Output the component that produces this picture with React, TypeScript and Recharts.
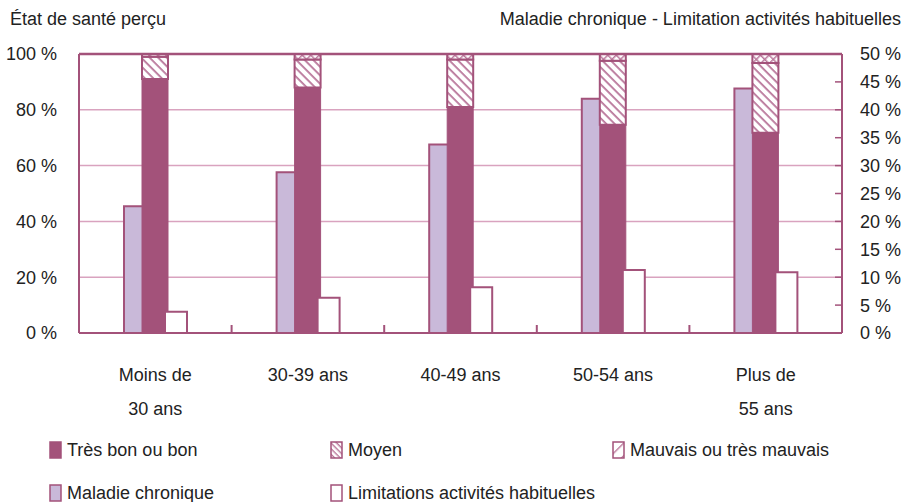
import { Bar, CartesianGrid, ComposedChart, ReferenceLine, XAxis, YAxis } from 'recharts';

const categories = ['Moins de 30 ans', '30-39 ans', '40-49 ans', '50-54 ans', 'Plus de 55 ans'];
const tickLines = [['Moins de', '30 ans'], ['30-39 ans'], ['40-49 ans'], ['50-54 ans'], ['Plus de', '55 ans']];

// état de santé perçu (axe gauche, %)
const tresBon = [91, 88, 81, 74.6, 71.8];
const moyen = [8, 10, 17, 23, 25];
const mauvais = [1, 2, 2, 2.4, 3.2];

// axe droit (%)
const maladie = [22.7, 28.8, 33.8, 42, 43.8];
const limitations = [3.8, 6.3, 8.2, 11.3, 10.9];

const leftTicks = [0, 20, 40, 60, 80, 100];
const rightTicks = [0, 5, 10, 15, 20, 25, 30, 35, 40, 45, 50];

const data = categories.map((name, i) => ({
  name,
  tresBon: tresBon[i],
  moyen: moyen[i],
  mauvais: mauvais[i],
  maladie: maladie[i],
  limitations: limitations[i],
}));

const DARK = '#a3527a';
const HATCH = '#b9769a';
const LIGHT = '#c9b9d9';
const GRID = '#d9a3bf';
const TEXT = '#222';
const FONT = '"Liberation Sans", Arial, sans-serif';
const FS = 18;

const PLOT_LEFT = 79;
const PLOT_RIGHT = 842;
const halfBand = (PLOT_RIGHT - PLOT_LEFT) / categories.length / 2;

const XTick = (props: any) => {
  const { x, y, index } = props;
  const lines = tickLines[index] || [];
  return (
    <g>
      {index < categories.length - 1 && (
        <line x1={x + halfBand} x2={x + halfBand} y1={y - 8} y2={y} stroke={DARK} strokeWidth={2} />
      )}
      {lines.map((l, k) => (
        <text key={k} x={x} y={y + 48 + k * 34} textAnchor="middle" fill={TEXT} fontSize={FS} fontFamily={FONT}>
          {l}
        </text>
      ))}
    </g>
  );
};

const RightTick = (props: any) => {
  const { x, y, payload } = props;
  return (
    <g>
      <line x1={x - 7} x2={x} y1={y} y2={y} stroke={DARK} strokeWidth={1.5} />
      <text x={x + 18} y={y} dy="0.36em" textAnchor="start" fill={TEXT} fontSize={FS} fontFamily={FONT}>
        {payload.value} %
      </text>
    </g>
  );
};

const LegendIcon = ({ fill, stroke = DARK }: { fill: string; stroke?: string }) => (
  <svg width={13} height={18} style={{ marginRight: 5, flexShrink: 0 }}>
    <defs>
      <pattern id="lgMoyen" width="4" height="4" patternUnits="userSpaceOnUse" patternTransform="rotate(45)">
        <rect width="4" height="4" fill="#fff" />
        <rect width="4" height="1.4" fill={HATCH} />
      </pattern>
      <pattern id="lgMauvais" width="9" height="9" patternUnits="userSpaceOnUse" patternTransform="rotate(-45)">
        <rect width="9" height="9" fill="#fff" />
        <rect width="9" height="1.4" fill={HATCH} />
      </pattern>
    </defs>
    <rect x={1} y={1} width={11} height={16} fill={fill} stroke={stroke} strokeWidth={1.5} />
  </svg>
);

const legendItems = [
  { label: 'Très bon ou bon', fill: DARK, left: 49, top: 441 },
  { label: 'Moyen', fill: 'url(#lgMoyen)', left: 330, top: 441 },
  { label: 'Mauvais ou très mauvais', fill: 'url(#lgMauvais)', left: 612, top: 441 },
  { label: 'Maladie chronique', fill: LIGHT, left: 49, top: 484 },
  { label: 'Limitations activités habituelles', fill: '#fff', left: 330, top: 484 },
];

export default function App() {
  return (
    <div
      style={{
        position: 'absolute',
        left: 0,
        top: 0,
        width: 901,
        height: 502,
        overflow: 'hidden',
        background: '#fff',
        fontFamily: FONT,
        color: TEXT,
      }}
    >
      <div style={{ position: 'absolute', left: 10, top: 9, fontSize: FS }}>État de santé perçu</div>
      <div style={{ position: 'absolute', right: 0, top: 9, fontSize: FS, whiteSpace: 'nowrap' }}>
        Maladie chronique - Limitation activités habituelles
      </div>

      <ComposedChart
        width={901}
        height={430}
        data={data}
        margin={{ top: 54, right: 9, bottom: 7, left: 19 }}
        barGap={-3}
        barCategoryGap="30%"
        style={{ position: 'absolute', left: 0, top: 0 }}
      >
        <defs>
          <pattern id="hMoyen" width="6" height="6" patternUnits="userSpaceOnUse" patternTransform="rotate(45)">
            <rect width="6" height="6" fill="#fff" />
            <rect width="6" height="1.8" fill={HATCH} />
          </pattern>
          <pattern id="hMauvais" width="6" height="6" patternUnits="userSpaceOnUse" patternTransform="rotate(-45)">
            <rect width="6" height="6" fill="#fff" />
            <rect width="6" height="1.5" fill={HATCH} />
            <rect width="1.5" height="6" fill={HATCH} />
          </pattern>
        </defs>
        <CartesianGrid yAxisId="left" vertical={false} stroke={GRID} strokeWidth={1.5} />
        <XAxis
          dataKey="name"
          axisLine={{ stroke: DARK, strokeWidth: 2 }}
          tickLine={false}
          tickSize={0}
          tickMargin={0}
          height={90}
          interval={0}
          tick={<XTick />}
        />
        <YAxis
          yAxisId="left"
          orientation="left"
          domain={[0, 100]}
          ticks={leftTicks}
          width={60}
          axisLine={{ stroke: DARK, strokeWidth: 2 }}
          tickLine={false}
          tickSize={0}
          tickMargin={22}
          tickFormatter={(v) => `${v} %`}
          tick={{ fontSize: FS, fill: TEXT, fontFamily: FONT }}
        />
        <YAxis
          yAxisId="right"
          orientation="right"
          domain={[0, 50]}
          ticks={rightTicks}
          width={50}
          axisLine={{ stroke: DARK, strokeWidth: 2 }}
          tickLine={false}
          tickSize={0}
          tickMargin={0}
          interval={0}
          tick={<RightTick />}
        />
        <ReferenceLine yAxisId="left" y={100} stroke={DARK} strokeWidth={2.5} />
        <Bar
          yAxisId="right"
          dataKey="maladie"
          name="Maladie chronique"
          stackId="a"
          barSize={21}
          fill={LIGHT}
          stroke={DARK}
          strokeWidth={2}
          isAnimationActive={false}
        />
        <Bar
          yAxisId="left"
          dataKey="tresBon"
          name="Très bon ou bon"
          stackId="b"
          barSize={26}
          fill={DARK}
          stroke={DARK}
          strokeWidth={1}
          isAnimationActive={false}
        />
        <Bar
          yAxisId="left"
          dataKey="moyen"
          name="Moyen"
          stackId="b"
          barSize={26}
          fill="url(#hMoyen)"
          stroke={DARK}
          strokeWidth={2}
          isAnimationActive={false}
        />
        <Bar
          yAxisId="left"
          dataKey="mauvais"
          name="Mauvais ou très mauvais"
          stackId="b"
          barSize={26}
          fill="url(#hMauvais)"
          stroke={DARK}
          strokeWidth={2}
          isAnimationActive={false}
        />
        <Bar
          yAxisId="right"
          dataKey="limitations"
          name="Limitations activités habituelles"
          stackId="c"
          barSize={22}
          fill="#fff"
          stroke={DARK}
          strokeWidth={2}
          isAnimationActive={false}
        />
      </ComposedChart>

      {legendItems.map((it) => (
        <div
          key={it.label}
          style={{
            position: 'absolute',
            left: it.left,
            top: it.top,
            display: 'flex',
            alignItems: 'center',
            fontSize: FS,
            whiteSpace: 'nowrap',
            lineHeight: '18px',
          }}
        >
          <LegendIcon fill={it.fill} />
          {it.label}
        </div>
      ))}
    </div>
  );
}
